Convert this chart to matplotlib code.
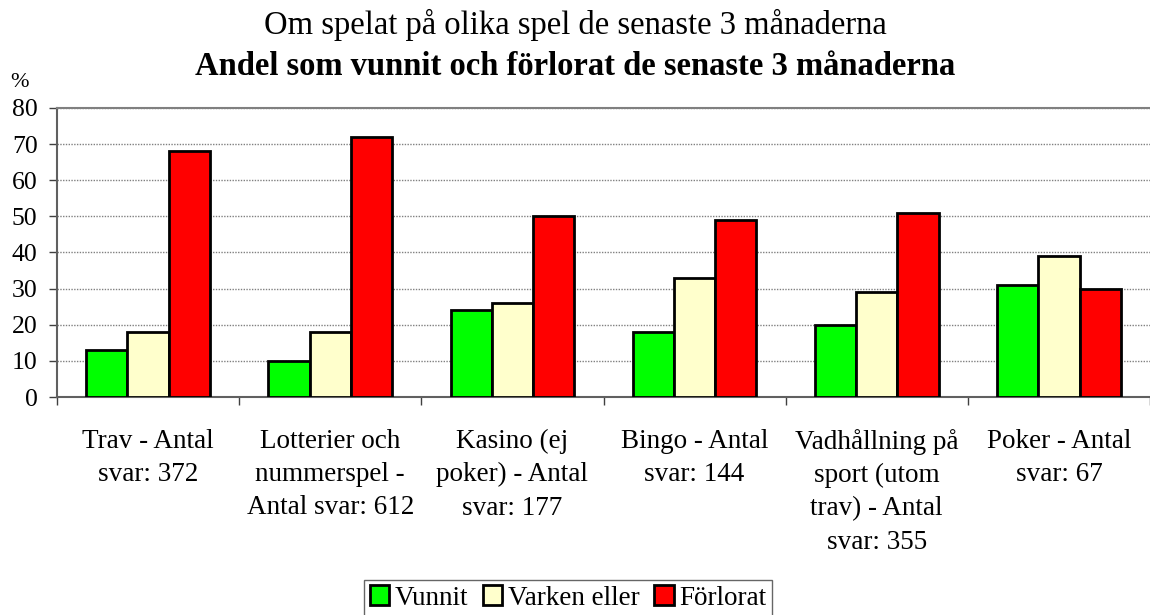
import matplotlib
matplotlib.use("Agg")
import matplotlib.pyplot as plt
import numpy as np

plt.rcParams['font.family'] = ['Liberation Serif', 'DejaVu Serif']

categories = [
    "Trav - Antal\nsvar: 372",
    "Lotterier och\nnummerspel -\nAntal svar: 612",
    "Kasino (ej\npoker) - Antal\nsvar: 177",
    "Bingo - Antal\nsvar: 144",
    "Vadhållning på\nsport (utom\ntrav) - Antal\nsvar: 355",
    "Poker - Antal\nsvar: 67",
]
vunnit = [13, 10, 24, 18, 20, 31]
varken = [18, 18, 26, 33, 29, 39]
forlorat = [68, 72, 50, 49, 51, 30]

series = [("Vunnit", vunnit, "#00ff00"),
          ("Varken eller", varken, "#ffffcc"),
          ("Förlorat", forlorat, "#ff0000")]

fig = plt.figure(figsize=(11.5, 6.15), dpi=100)
ax = fig.add_axes([57 / 1150, 1 - 397 / 615, 1093 / 1150, 289 / 615])

x = np.arange(len(categories))
w = 0.226
for i, (name, vals, col) in enumerate(series):
    ax.bar(x + (i - 1) * w, vals, w, color=col, edgecolor="black",
           linewidth=2, label=name, zorder=3)

ax.set_xlim(-0.5, len(categories) - 0.5)
ax.set_ylim(0, 80)
ax.set_yticks(range(0, 81, 10))
ax.yaxis.grid(True, linestyle=(0, (1, 1)), color="#808080", linewidth=1, zorder=0)

ax.set_xticks(x)
ax.set_xticklabels(categories, fontsize=19.5, linespacing=1.43, va="top")
ax.set_xticks(np.arange(-0.5, len(categories)), minor=True)
ax.tick_params(axis="x", which="major", length=0, pad=23)
ax.tick_params(axis="x", which="minor", length=6, width=1, color="#404040",
               direction="out")
ax.tick_params(axis="y", labelsize=18.5, length=6, width=1, color="#404040",
               direction="out", pad=8)

ax.spines["right"].set_visible(False)
ax.spines["top"].set_color("#808080")
ax.spines["top"].set_linewidth(1.5)
ax.spines["left"].set_color("#606060")
ax.spines["left"].set_linewidth(1.5)
ax.spines["bottom"].set_color("#606060")
ax.spines["bottom"].set_linewidth(1.5)

fig.text(0.5, 1 - 34 / 615, "Om spelat på olika spel de senaste 3 månaderna",
         ha="center", va="baseline", fontsize=23.5)
fig.text(0.5, 1 - 75 / 615, "Andel som vunnit och förlorat de senaste 3 månaderna",
         ha="center", va="baseline", fontsize=23.5, fontweight="bold")
fig.text(10 / 1150, 1 - 87 / 615, "%", ha="left", va="baseline", fontsize=16)

leg = fig.legend(loc="center", bbox_to_anchor=(568 / 1150, 1 - 598 / 615),
                 ncol=3, fontsize=19.5, frameon=True, fancybox=False,
                 edgecolor="#404040", handlelength=0.72, handleheight=0.72,
                 handletextpad=0.2, columnspacing=0.55, borderpad=0.2,
                 borderaxespad=0)
leg.get_frame().set_linewidth(1)

fig.savefig("out.png", dpi=100)
